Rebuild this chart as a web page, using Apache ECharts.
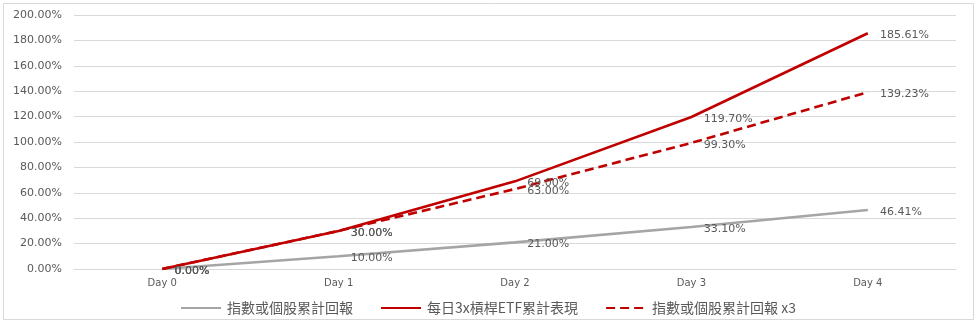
<!DOCTYPE html>
<html>
<head>
<meta charset="utf-8">
<script src="https://cdn.jsdelivr.net/npm/echarts@6/dist/echarts.min.js"></script>
<style>html,body{margin:0;padding:0;background:#fff}#c{width:976px;height:324px}</style>
</head>
<body>
<div id="c"></div>
<script>
const categories = ['Day 0', 'Day 1', 'Day 2', 'Day 3', 'Day 4'];
const seriesNames = ['指數或個股累計回報', '每日3x槓桿ETF累計表現', '指數或個股累計回報 x3'];
const indexReturn = [0, 10, 21, 33.1, 46.41];
const etfReturn = [0, 30, 69, 119.7, 185.61];
const indexX3 = [0, 30, 63, 99.3, 139.23];
const yTicks = { min: 0, max: 200, interval: 20 };

const chart = echarts.init(document.getElementById('c'));
const labelCfg = {
  show: true, position: 'right', distance: 12, offset: [0, 2],
  color: '#595959', fontFamily: 'DejaVu Sans', fontSize: 11,
  formatter: p => p.value.toFixed(2) + '%'
};
function mk(name, data, color, type) {
  return {
    name, type: 'line', data, symbol: 'circle', symbolSize: 0.5, showSymbol: true,
    lineStyle: { color, width: 2.6, type: type },
    itemStyle: { color },
    label: labelCfg,
    emphasis: { disabled: true },
    z: 2
  };
}
chart.setOption({
  animation: false,
  backgroundColor: '#fff',
  graphic: [{
    type: 'rect', shape: { x: 3.5, y: 3.5, width: 970, height: 316 },
    style: { fill: 'none', stroke: '#D9D9D9', lineWidth: 1 }, silent: true
  }],
  grid: { left: 74, right: 20, top: 15, bottom: 55 },
  legend: {
    top: 296, left: 'center', itemWidth: 40, itemHeight: 12, itemGap: 27,
    itemStyle: { opacity: 0 },
    textStyle: { color: '#595959', fontSize: 14, fontFamily: 'Noto Sans CJK TC', padding: [0, 0, 0, 1] },
    data: seriesNames
  },
  xAxis: {
    type: 'category', data: categories, boundaryGap: true,
    axisLine: { lineStyle: { color: '#D9D9D9' } },
    axisTick: { show: false },
    axisLabel: { color: '#595959', fontSize: 10, fontFamily: 'DejaVu Sans', margin: 9 }
  },
  yAxis: {
    type: 'value', min: yTicks.min, max: yTicks.max, interval: yTicks.interval,
    axisLine: { show: false }, axisTick: { show: false },
    splitLine: { lineStyle: { color: '#D9D9D9', width: 1 } },
    axisLabel: { color: '#595959', fontSize: 11, fontFamily: 'DejaVu Sans', margin: 12,
      formatter: v => v.toFixed(2) + '%' }
  },
  series: [
    mk(seriesNames[0], indexReturn, '#A5A5A5', 'solid'),
    mk(seriesNames[1], etfReturn, '#C00000', 'solid'),
    mk(seriesNames[2], indexX3, '#C00000', [9, 5])
  ]
});
</script>
</body>
</html>
